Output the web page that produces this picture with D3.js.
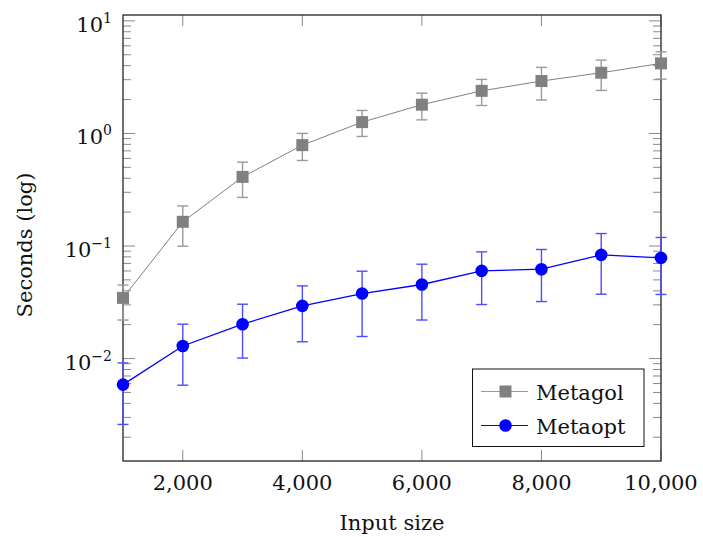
<!DOCTYPE html>
<html>
<head>
<meta charset="utf-8">
<script src="https://cdn.jsdelivr.net/npm/d3@7"></script>
<style>
  html, body { margin: 0; padding: 0; background: #fff; }
  svg { display: block; }
  text { font-family: "DejaVu Serif", serif; fill: #111; }
</style>
</head>
<body>
<svg id="chart" width="703" height="537"></svg>
<script>
// ---- data ----
const inputSizes = [1000, 2000, 3000, 4000, 5000, 6000, 7000, 8000, 9000, 10000];
const metagolMean = [0.0346, 0.164, 0.411, 0.787, 1.26, 1.80, 2.39, 2.92, 3.46, 4.19];
const metagolLow  = [0.022, 0.0996, 0.27, 0.575, 0.94, 1.32, 1.77, 1.98, 2.41, 3.04];
const metagolHigh = [0.045, 0.227, 0.556, 1.0, 1.60, 2.28, 3.02, 3.86, 4.48, 5.31];
const metaoptMean = [0.00587, 0.01294, 0.0202, 0.0294, 0.0378, 0.0455, 0.0601, 0.0622, 0.0834, 0.0784];
const metaoptLow  = [0.0026, 0.0058, 0.0101, 0.0141, 0.0157, 0.0220, 0.0302, 0.0321, 0.0373, 0.0371];
const metaoptHigh = [0.00914, 0.0202, 0.0304, 0.0442, 0.0597, 0.0689, 0.0887, 0.0931, 0.129, 0.119];
const xTickValues = [2000, 4000, 6000, 8000, 10000];
const xTickLabels = ["2,000", "4,000", "6,000", "8,000", "10,000"];
const yMajorExps = [-2, -1, 0, 1];
const seriesNames = ["Metagol", "Metaopt"];
const xTitle = "Input size";
const yTitle = "Seconds (log)";

// ---- layout ----
const L = 123, R = 661, T = 15, B = 461;
const svg = d3.select("#chart");
const x = d3.scaleLinear().domain([1000, 10000]).range([L, R]);
const y = d3.scaleLog().domain([Math.pow(10, -2.91), Math.pow(10, 1.052)]).range([B, T]);

const gray = "#808080", grayErr = "#9a9a9a";
const blue = "#0000ff", blueErr = "#4d4dff";
const tickCol = "#8a8a8a";

// minor / major y ticks
const yMinor = [];
for (let e = -3; e <= 1; e++) {
  for (let m = 2; m <= 9; m++) {
    const v = m * Math.pow(10, e);
    if (v > y.domain()[0] && v < y.domain()[1]) yMinor.push(v);
  }
}
const yMajor = yMajorExps.map(e => Math.pow(10, e));

const ticks = svg.append("g");
// y ticks left & right
yMinor.forEach(v => {
  ticks.append("line").attr("x1", L).attr("x2", L + 8).attr("y1", y(v)).attr("y2", y(v))
    .attr("stroke", tickCol).attr("stroke-width", 1);
  ticks.append("line").attr("x1", R).attr("x2", R - 8).attr("y1", y(v)).attr("y2", y(v))
    .attr("stroke", tickCol).attr("stroke-width", 1);
});
yMajor.forEach(v => {
  ticks.append("line").attr("x1", L).attr("x2", L + 12).attr("y1", y(v)).attr("y2", y(v))
    .attr("stroke", tickCol).attr("stroke-width", 1);
  ticks.append("line").attr("x1", R).attr("x2", R - 12).attr("y1", y(v)).attr("y2", y(v))
    .attr("stroke", tickCol).attr("stroke-width", 1);
});
// x ticks bottom & top
xTickValues.forEach(v => {
  ticks.append("line").attr("x1", x(v)).attr("x2", x(v)).attr("y1", B).attr("y2", B - 11)
    .attr("stroke", tickCol).attr("stroke-width", 1);
  ticks.append("line").attr("x1", x(v)).attr("x2", x(v)).attr("y1", T).attr("y2", T + 11)
    .attr("stroke", tickCol).attr("stroke-width", 1);
});

// frame
svg.append("rect").attr("x", L).attr("y", T).attr("width", R - L).attr("height", B - T)
  .attr("fill", "none").attr("stroke", "#222").attr("stroke-width", 1.3);

// x tick labels
xTickValues.forEach((v, i) => {
  svg.append("text").attr("x", x(v)).attr("y", 490).attr("text-anchor", "middle")
    .attr("font-size", 21).text(xTickLabels[i]);
});
// y tick labels
yMajorExps.forEach(e => {
  const t = svg.append("text").attr("x", 112).attr("y", y(Math.pow(10, e)) + 11)
    .attr("text-anchor", "end").attr("font-size", 21);
  t.append("tspan").text("10");
  t.append("tspan").attr("font-size", 14).attr("dy", -9).text(e < 0 ? "\u2212" + (-e) : String(e));
});

// axis titles
svg.append("text").attr("x", (L + R) / 2).attr("y", 530).attr("text-anchor", "middle")
  .attr("font-size", 21).text(xTitle);
svg.append("text").attr("transform", `translate(32, ${(T + B) / 2 + 7}) rotate(-90)`)
  .attr("text-anchor", "middle").attr("font-size", 21).text(yTitle);

// series drawing
function drawSeries(means, lows, highs, col, errCol, shape) {
  const g = svg.append("g");
  const pts = inputSizes.map((s, i) => ({ s, m: means[i], lo: lows[i], hi: highs[i] }));
  // error bars
  pts.forEach(p => {
    g.append("line").attr("x1", x(p.s)).attr("x2", x(p.s)).attr("y1", y(p.lo)).attr("y2", y(p.hi))
      .attr("stroke", errCol).attr("stroke-width", 1.4);
    [p.lo, p.hi].forEach(v => {
      g.append("line").attr("x1", x(p.s) - 5.5).attr("x2", x(p.s) + 5.5).attr("y1", y(v)).attr("y2", y(v))
        .attr("stroke", errCol).attr("stroke-width", 1.4);
    });
  });
  const line = d3.line().x(p => x(p.s)).y(p => y(p.m));
  g.append("path").datum(pts).attr("d", line).attr("fill", "none")
    .attr("stroke", col).attr("stroke-width", shape === "square" ? 1 : 1.3);
  pts.forEach(p => {
    if (shape === "square") {
      g.append("rect").attr("x", x(p.s) - 6).attr("y", y(p.m) - 6).attr("width", 12).attr("height", 12)
        .attr("fill", col);
    } else {
      g.append("circle").attr("cx", x(p.s)).attr("cy", y(p.m)).attr("r", 6.3).attr("fill", col);
    }
  });
}
drawSeries(metagolMean, metagolLow, metagolHigh, gray, grayErr, "square");
drawSeries(metaoptMean, metaoptLow, metaoptHigh, blue, blueErr, "circle");

// legend
const lg = svg.append("g");
lg.append("rect").attr("x", 472.5).attr("y", 369).attr("width", 171.5).attr("height", 77.5)
  .attr("fill", "#fff").attr("stroke", "#111").attr("stroke-width", 1);
const rows = [
  { name: seriesNames[0], col: "#9a9a9a", mcol: gray, shape: "square", cy: 391.5 },
  { name: seriesNames[1], col: blue, mcol: blue, shape: "circle", cy: 425.5 }
];
rows.forEach(r => {
  lg.append("line").attr("x1", 481).attr("x2", 528).attr("y1", r.cy).attr("y2", r.cy)
    .attr("stroke", r.col).attr("stroke-width", 1.2);
  if (r.shape === "square") {
    lg.append("rect").attr("x", 499.5).attr("y", r.cy - 6).attr("width", 12).attr("height", 12).attr("fill", r.mcol);
  } else {
    lg.append("circle").attr("cx", 505.5).attr("cy", r.cy).attr("r", 6.3).attr("fill", r.mcol);
  }
  lg.append("text").attr("x", 536).attr("y", r.cy + 8).attr("font-size", 21).text(r.name);
});
</script>
</body>
</html>
